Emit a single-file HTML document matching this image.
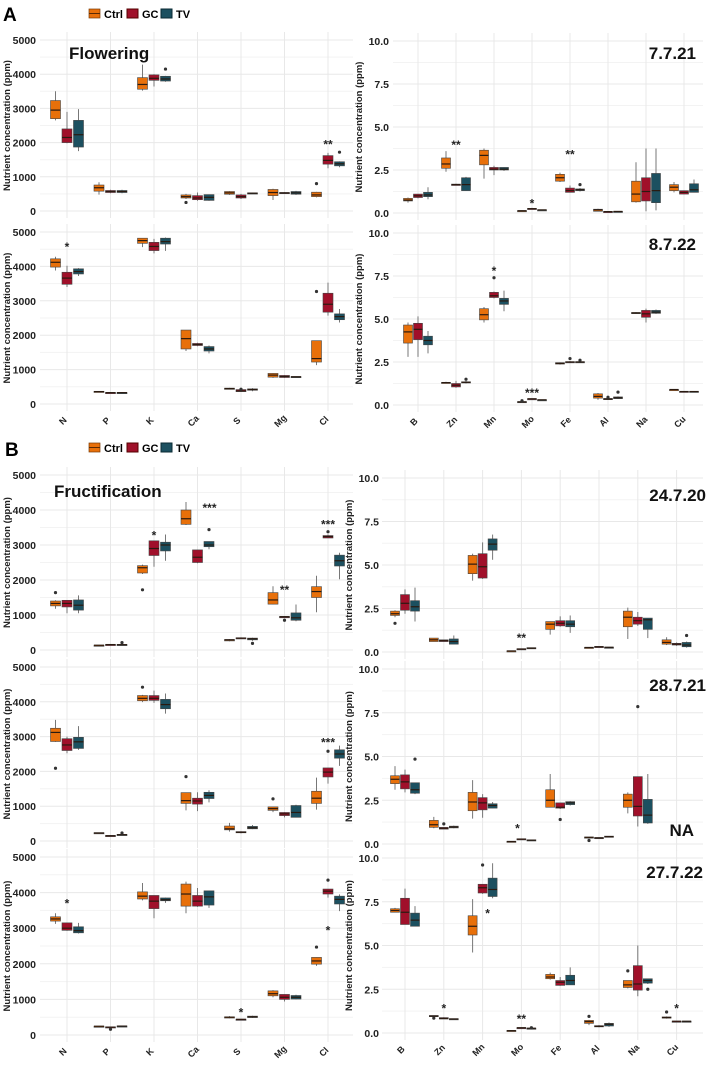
<!DOCTYPE html>
<html><head><meta charset="utf-8">
<style>
html,body{margin:0;padding:0;background:#fff;}
svg{display:block;font-family:"Liberation Sans",sans-serif;}
</style></head>
<body>
<svg id="fig" width="709" height="1065" viewBox="0 0 709 1065" xmlns="http://www.w3.org/2000/svg">
<text x="3" y="21" font-size="19" font-weight="bold">A</text>
<text x="5" y="456" font-size="19" font-weight="bold">B</text>
<g>
 <rect x="89" y="9" width="11" height="9" fill="#E8700A" stroke="#7a3a05" stroke-width="0.7"/><line x1="89" y1="13.5" x2="100" y2="13.5" stroke="#5a2a05"/>
 <text x="104" y="18" font-size="11" font-weight="bold">Ctrl</text>
 <rect x="127" y="9" width="11" height="9" fill="#A0102A" stroke="#500"/><text x="142" y="18" font-size="11" font-weight="bold">GC</text>
 <rect x="161" y="9" width="11" height="9" fill="#1C5060" stroke="#0a2a33"/><text x="176" y="18" font-size="11" font-weight="bold">TV</text>
</g>
<g>
 <rect x="89" y="443" width="11" height="9" fill="#E8700A" stroke="#7a3a05" stroke-width="0.7"/><line x1="89" y1="447.5" x2="100" y2="447.5" stroke="#5a2a05"/>
 <text x="104" y="452" font-size="11" font-weight="bold">Ctrl</text>
 <rect x="127" y="443" width="11" height="9" fill="#A0102A" stroke="#500"/><text x="142" y="452" font-size="11" font-weight="bold">GC</text>
 <rect x="161" y="443" width="11" height="9" fill="#1C5060" stroke="#0a2a33"/><text x="176" y="452" font-size="11" font-weight="bold">TV</text>
</g>
<g id="plots"></g>
</svg>
<script>
const macroCats = ["N","P","K","Ca","S","Mg","Cl"];
const microCats = ["B","Zn","Mn","Mo","Fe","Al","Na","Cu"];
const macroTicks = ["0","1000","2000","3000","4000","5000"];
const macroTickVals = [0,1000,2000,3000,4000,5000];
const microTicks = ["0.0","2.5","5.0","7.5","10.0"];
const microTickVals = [0,2.5,5,7.5,10];

const a1Ctrl = [[2650,2700,2950,3230,3500],[480,580,680,760,840],[3520,3560,3700,3900,4280],[350,380,420,470,500],[470,490,530,570,580],[320,450,540,630,650],[400,420,470,550,560]];
const a1GC   = [[1980,2000,2150,2400,2900],[520,540,570,600,620],[3640,3820,3880,3980,4000],[300,330,380,450,540],[350,380,420,470,500],[510,520,530,540,550],[1250,1370,1480,1620,1700]];
const a1TV   = [[1750,1870,2230,2650,2980],[520,540,570,600,620],[3780,3800,3860,3940,3950],[300,310,400,480,480],[500,510,520,530,540],[470,490,530,570,590],[1280,1320,1380,1440,1450]];
const a1Out  = [[2,2,4150],[3,0,250],[6,0,800],[6,2,1720]];
const a1Sig  = [[6,0,1980,"**"]];

const a1mCtrl = [[0.6,0.7,0.75,0.85,0.9],[2.4,2.6,2.85,3.2,3.6],[2.0,2.8,3.35,3.65,3.75],[0.1,0.12,0.13,0.14,0.15],[1.8,1.85,2.05,2.25,2.35],[0.1,0.1,0.18,0.22,0.25],[0.6,0.65,1.1,1.85,2.95],[1.2,1.3,1.5,1.65,1.8]];
const a1mGC   = [[0.85,0.9,1.0,1.1,1.1],[1.6,1.6,1.65,1.68,1.7],[2.2,2.5,2.55,2.65,2.75],[0.2,0.22,0.25,0.27,0.3],[1.2,1.2,1.3,1.45,1.6],[0.05,0.07,0.08,0.09,0.1],[0.1,0.7,1.25,2.05,3.75],[1.1,1.1,1.2,1.3,1.3]];
const a1mTV   = [[0.8,0.95,1.05,1.2,1.5],[1.3,1.3,1.65,2.05,2.1],[2.45,2.5,2.55,2.65,2.65],[0.15,0.17,0.18,0.19,0.2],[1.25,1.3,1.35,1.4,1.45],[0.08,0.08,0.09,0.1,0.1],[0.15,0.6,1.3,2.3,3.75],[1.2,1.2,1.35,1.7,1.95]];
const a1mOut  = [[4,2,1.65]];
const a1mSig  = [[1,0,4.0,"**"],[3,0,0.6,"*"],[4,0,3.45,"**"]];

const a2Ctrl = [[3880,3980,4120,4220,4280],[350,350,360,370,370],[4560,4670,4750,4820,4820],[1540,1600,1900,2150,2150],[430,440,450,460,470],[760,780,840,890,900],[1130,1220,1320,1840,1840]];
const a2GC   = [[3400,3480,3660,3830,4020],[320,325,330,335,340],[4380,4460,4580,4700,4800],[1680,1700,1730,1760,1780],[350,360,380,420,440],[760,770,800,830,840],[2570,2670,2900,3220,3530]];
const a2TV   = [[3720,3780,3850,3930,3950],[320,325,330,335,340],[4450,4650,4720,4820,4840],[1470,1540,1600,1670,1700],[370,400,420,440,460],[780,785,790,800,800],[2370,2450,2540,2620,2760]];
const a2Out  = [[6,0,3270],[4,1,430]];
const a2Sig  = [[0,0,4600,"*"]];

const a2mCtrl = [[2.8,3.6,4.25,4.65,4.8],[1.25,1.25,1.3,1.32,1.35],[4.8,4.95,5.25,5.6,5.7],[0.15,0.17,0.18,0.2,0.22],[2.35,2.38,2.42,2.46,2.48],[0.3,0.4,0.5,0.65,0.7],[5.3,5.32,5.35,5.38,5.4],[0.9,0.9,0.9,0.9,0.9]];
const a2mGC   = [[2.8,3.8,4.4,4.75,5.15],[1.0,1.05,1.15,1.25,1.4],[6.2,6.25,6.35,6.55,6.6],[0.35,0.35,0.36,0.37,0.37],[2.45,2.47,2.5,2.52,2.55],[0.3,0.32,0.35,0.38,0.4],[4.8,5.1,5.3,5.5,5.6],[0.75,0.77,0.78,0.8,0.8]];
const a2mTV   = [[3.0,3.5,3.75,4.0,4.3],[1.25,1.3,1.32,1.35,1.4],[5.45,5.85,6.05,6.2,6.65],[0.28,0.29,0.3,0.31,0.32],[2.45,2.47,2.5,2.52,2.55],[0.35,0.37,0.42,0.47,0.5],[5.3,5.33,5.4,5.5,5.55],[0.75,0.77,0.78,0.8,0.8]];
const a2mOut  = [[1,2,1.5],[2,1,7.4],[3,0,0.25],[4,1,2.7],[4,2,2.6],[5,1,0.45],[5,2,0.75]];
const a2mSig  = [[2,0,7.85,"*"],[3,0,0.75,"***"]];

const b1Ctrl = [[1180,1260,1330,1400,1420],[130,130,135,140,140],[2170,2200,2350,2410,2440],[3570,3590,3750,4000,4230],[250,260,290,300,310],[1300,1310,1430,1640,1820],[1080,1500,1670,1810,2120]];
const b1GC   = [[1050,1230,1330,1420,1430],[150,150,155,160,160],[2380,2700,2900,3120,3120],[2480,2500,2650,2860,2860],[320,330,340,350,360],[920,920,950,960,970],[3200,3200,3240,3270,3300]];
const b1TV   = [[1050,1140,1280,1430,1560],[140,140,150,160,200],[2550,2830,3000,3080,3300],[2880,2950,3000,3100,3100],[260,290,320,340,350],[820,850,920,1060,1300],[2020,2400,2550,2710,2780]];
const b1Out  = [[0,0,1640],[1,2,210],[2,0,1720],[3,2,3440],[4,2,190],[5,1,850],[6,1,3380]];
const b1Sig  = [[2,0,3300,"*"],[3,12,4080,"***"],[5,0,1750,"**"],[6,0,3620,"***"]];

const b1mCtrl = [[2.0,2.1,2.2,2.35,2.4],[0.6,0.6,0.7,0.8,0.8],[4.1,4.5,5.05,5.55,5.65],[0.05,0.05,0.06,0.07,0.07],[1.0,1.3,1.6,1.75,1.75],[0.25,0.25,0.26,0.27,0.27],[0.75,1.45,2.0,2.35,2.55],[0.4,0.45,0.55,0.7,0.85]];
const b1mGC   = [[2.2,2.4,2.8,3.3,3.6],[0.6,0.6,0.65,0.7,0.7],[4.2,4.25,4.9,5.65,6.3],[0.15,0.15,0.17,0.19,0.2],[1.45,1.5,1.65,1.8,2.05],[0.27,0.28,0.3,0.32,0.32],[1.5,1.6,1.8,2.0,2.3],[0.35,0.4,0.45,0.5,0.55]];
const b1mTV   = [[1.75,2.35,2.6,2.95,3.7],[0.45,0.45,0.6,0.75,0.95],[5.3,5.85,6.2,6.5,6.75],[0.2,0.2,0.22,0.25,0.25],[1.1,1.45,1.6,1.8,2.1],[0.25,0.26,0.27,0.28,0.28],[0.8,1.3,1.85,1.95,1.95],[0.25,0.3,0.4,0.55,0.6]];
const b1mOut  = [[0,0,1.65],[7,2,0.95]];
const b1mSig  = [[3,0,0.85,"**"]];

const b2Ctrl = [[2850,2860,3120,3240,3480],[220,220,230,240,240],[3990,4030,4100,4180,4200],[880,1080,1160,1390,1390],[270,320,350,430,520],[830,880,930,980,980],[900,1080,1230,1430,1820]];
const b2GC   = [[2520,2600,2760,2940,3000],[130,140,150,160,160],[3970,4040,4100,4180,4320],[860,1060,1150,1230,1400],[220,240,250,270,280],[680,730,780,820,830],[1650,1840,1980,2100,2100]];
const b2TV   = [[2620,2660,2850,2980,3300],[170,175,180,190,210],[3660,3800,3920,4070,4240],[1110,1220,1310,1400,1460],[340,350,380,420,460],[680,680,820,1020,1040],[2160,2380,2500,2620,2740]];
const b2Out  = [[0,0,2090],[1,2,230],[2,0,4420],[3,0,1850],[5,0,1210],[6,1,2580]];
const b2Sig  = [[6,0,2860,"***"]];

const b2mCtrl = [[3.1,3.45,3.7,3.9,4.45],[0.9,0.95,1.1,1.35,1.55],[1.45,1.9,2.4,2.95,3.65],[0.12,0.12,0.14,0.16,0.16],[2.1,2.1,2.5,3.1,4.0],[0.3,0.35,0.38,0.4,0.4],[1.75,2.1,2.5,2.85,2.95],null];
const b2mGC   = [[2.95,3.15,3.55,3.95,4.25],[0.85,0.85,0.9,0.95,0.95],[1.5,1.95,2.35,2.65,2.85],[0.25,0.25,0.28,0.3,0.3],[2.0,2.05,2.1,2.35,2.35],[0.33,0.33,0.35,0.37,0.37],[1.0,1.6,2.15,3.85,3.85],null];
const b2mTV   = [[2.85,2.9,3.1,3.5,3.5],[0.9,0.92,0.97,1.02,1.05],[2.05,2.05,2.2,2.3,2.4],[0.2,0.2,0.22,0.24,0.25],[2.2,2.25,2.35,2.42,2.45],[0.4,0.4,0.42,0.45,0.45],[1.15,1.2,1.65,2.55,4.0],null];
const b2mOut  = [[0,2,4.85],[1,1,1.15],[4,1,1.4],[5,0,0.2],[6,1,7.85]];
const b2mSig  = [[3,-4,0.95,"*"]];

const b3Ctrl = [[3120,3200,3260,3320,3420],[240,240,245,250,250],[3780,3820,3900,4020,4270],[3420,3620,3960,4240,4310],[470,480,500,510,530],[1060,1100,1160,1240,1260],[1940,1990,2080,2180,2180]];
const b3GC   = [[2930,2940,3000,3150,3150],[200,210,220,230,230],[3280,3550,3760,3920,3920],[3600,3620,3760,3920,4130],[430,435,440,445,450],[940,1000,1060,1140,1140],[3860,3960,4040,4100,4100]];
const b3TV   = [[2850,2870,2930,3040,3150],[240,240,250,255,255],[3710,3770,3800,3850,3860],[3570,3650,3880,4050,4050],[480,490,510,530,540],[1000,1010,1060,1110,1130],[3480,3680,3810,3900,3950]];
const b3Out  = [[1,1,160],[6,0,2470],[6,1,4350]];
const b3Sig  = [[0,0,3720,"*"],[4,0,660,"*"],[6,0,2960,"*"]];

const b3mCtrl = [[6.9,6.9,7.0,7.1,7.15],[0.85,0.95,0.97,1.0,1.0],[4.6,5.6,6.1,6.7,7.65],[0.1,0.12,0.13,0.15,0.15],[3.05,3.1,3.2,3.35,3.45],[0.45,0.55,0.65,0.72,0.75],[2.55,2.6,2.75,3.0,3.0],[0.82,0.85,0.88,0.92,0.95]];
const b3mGC   = [[6.2,6.2,6.9,7.7,8.25],[0.8,0.8,0.83,0.88,0.9],[7.95,8.0,8.3,8.5,8.5],[0.28,0.28,0.3,0.31,0.31],[2.7,2.72,2.9,3.0,3.2],[0.33,0.35,0.38,0.42,0.45],[2.1,2.45,2.8,3.85,5.0],[0.65,0.66,0.67,0.68,0.68]];
const b3mTV   = [[6.1,6.1,6.45,6.85,7.25],[0.78,0.78,0.8,0.82,0.82],[7.7,7.8,8.2,8.85,9.7],[0.22,0.25,0.27,0.28,0.3],[2.75,2.75,3.0,3.3,3.75],[0.35,0.4,0.5,0.55,0.6],[2.8,2.85,3.0,3.1,3.1],[0.65,0.66,0.67,0.68,0.68]];
const b3mOut  = [[1,0,0.85],[2,1,9.6],[3,2,0.3],[5,0,0.95],[6,0,3.55],[6,2,2.5],[7,0,1.2]];
const b3mSig  = [[1,0,1.45,"*"],[2,5,6.9,"*"],[3,0,0.85,"**"],[7,0,1.45,"*"]];

const COLORS = ["#E8700A","#A0102A","#1C5060"];
const NS = "http://www.w3.org/2000/svg";
const root = document.getElementById("plots");
function mk(tag, attrs, parent){const e=document.createElementNS(NS,tag);for(const k in attrs)e.setAttribute(k,attrs[k]);parent.appendChild(e);return e;}

function drawPanel(cfg){
  const g = mk("g",{},root);
  
  
  const yScale = v => cfg.y0 + (cfg.yTop - cfg.y0) * (v / cfg.max);
  const xCat = i => cfg.cx0 + i * cfg.step;
  const top = cfg.yTop - 8, bot = cfg.y0 + 7;
  for (let i=0;i<cfg.tickVals.length-1;i++){
    const y = yScale((cfg.tickVals[i]+cfg.tickVals[i+1])/2);
    mk("line",{x1:cfg.xl,x2:cfg.xr,y1:y,y2:y,stroke:"#f3f3f3","stroke-width":1},g);
  }
  cfg.tickVals.forEach((v,i)=>{
    const y=yScale(v);
    mk("line",{x1:cfg.xl,x2:cfg.xr,y1:y,y2:y,stroke:"#e8e8e8","stroke-width":1},g);
    const t=mk("text",{x:cfg.tickX,y:y+4,"font-size":10.5,"font-weight":"bold","text-anchor":"end",fill:"#222"},g);
    t.textContent=cfg.ticks[i];
    
    
  });
  cfg.cats.forEach((c,i)=>{
    const x=xCat(i);
    mk("line",{x1:x,x2:x,y1:top,y2:bot,stroke:"#e8e8e8","stroke-width":1},g);
    if(cfg.xlabels){
      const t=mk("text",{x:0,y:0,"font-size":9,"font-weight":"bold","text-anchor":"middle",fill:"#222",transform:`translate(${x-2},${cfg.y0+19}) rotate(-45)`},g);
      t.textContent=c;
      
      
    }
  });
  const yt=mk("text",{x:0,y:0,"font-size":9.5,"font-weight":"bold","text-anchor":"middle",fill:"#222",transform:`translate(${cfg.titleX},${(cfg.y0+cfg.yTop)/2}) rotate(-90)`},g);
  yt.textContent="Nutrient concentration (ppm)";
  
  
  cfg.series.forEach((ser,si)=>{
    ser.forEach((b,ci)=>{
      if(!b) return;
      const cx = xCat(ci) + (si-1)*cfg.off;
      const w = cfg.bw;
      const wl = mk("line",{x1:cx,x2:cx,y1:yScale(b[0]),y2:yScale(b[4]),stroke:"#777","stroke-width":1},g);
      
      
      const y1=yScale(b[3]), y2=yScale(b[1]);
      const r=mk("rect",{x:cx-w/2,y:y1,width:w,height:Math.max(y2-y1,1.2),fill:COLORS[si],stroke:"#444","stroke-width":0.6},g);
      
      
      const ym=yScale(b[2]);
      mk("line",{x1:cx-w/2,x2:cx+w/2,y1:ym,y2:ym,stroke:"#2a1a10","stroke-width":1.2},g);
    });
  });
  cfg.out.forEach(o=>{
    const c=mk("circle",{cx:xCat(o[0])+(o[1]-1)*cfg.off,cy:yScale(o[2]),r:1.6,fill:"#333"},g);
    
    
  });
  cfg.sig.forEach(s=>{
    const t=mk("text",{x:xCat(s[0])+s[1],y:yScale(s[2])+5,"font-size":12,"font-weight":"bold","text-anchor":"middle",fill:"#222"},g);
    t.textContent=s[3];
    
    
  });
  if(cfg.title){
    const t=mk("text",{x:cfg.title[1],y:cfg.title[2],"font-size":17,"font-weight":"bold","text-anchor":cfg.title[3],fill:"#111"},g);
    t.textContent=cfg.title[0];
    
    
  }
}

const L = {cats:macroCats,ticks:macroTicks,tickVals:macroTickVals,max:5000,xl:40,xr:353,cx0:67,step:43.5,bw:10,off:11.5,tickX:36,titleX:10};
const RA = {cats:microCats,ticks:microTicks,tickVals:microTickVals,max:10,xl:393,xr:703,cx0:418,step:38,bw:9,off:10,tickX:389,titleX:362};
const RB = Object.assign({},RA,{cx0:405,step:38.8,tickX:379,xl:382,titleX:352});

drawPanel(Object.assign({},L,{name:"flowering-macro-2021",yTop:40,y0:211,series:[a1Ctrl,a1GC,a1TV],out:a1Out,sig:a1Sig,title:["Flowering",69,59,"start"]}));
drawPanel(Object.assign({},RA,{name:"flowering-micro-2021",yTop:41,y0:213,series:[a1mCtrl,a1mGC,a1mTV],out:a1mOut,sig:a1mSig,title:["7.7.21",696,59,"end"]}));
drawPanel(Object.assign({},L,{name:"flowering-macro-2022",yTop:232,y0:404,xlabels:true,series:[a2Ctrl,a2GC,a2TV],out:a2Out,sig:a2Sig}));
drawPanel(Object.assign({},RA,{name:"flowering-micro-2022",yTop:233,y0:405,xlabels:true,series:[a2mCtrl,a2mGC,a2mTV],out:a2mOut,sig:a2mSig,title:["8.7.22",696,250,"end"]}));
drawPanel(Object.assign({},L,{name:"fructification-macro-2020",yTop:475,y0:650,series:[b1Ctrl,b1GC,b1TV],out:b1Out,sig:b1Sig,title:["Fructification",54,497,"start"]}));
drawPanel(Object.assign({},RB,{name:"fructification-micro-2020",yTop:478,y0:652,series:[b1mCtrl,b1mGC,b1mTV],out:b1mOut,sig:b1mSig,title:["24.7.20",706,501,"end"]}));
drawPanel(Object.assign({},L,{name:"fructification-macro-2021",yTop:667,y0:841,series:[b2Ctrl,b2GC,b2TV],out:b2Out,sig:b2Sig}));
drawPanel(Object.assign({},RB,{name:"fructification-micro-2021",yTop:669,y0:844,series:[b2mCtrl,b2mGC,b2mTV],out:b2mOut,sig:b2mSig,title:["28.7.21",706,691,"end"]}));
drawPanel(Object.assign({},L,{name:"fructification-macro-2022",yTop:857,y0:1035,xlabels:true,series:[b3Ctrl,b3GC,b3TV],out:b3Out,sig:b3Sig}));
drawPanel(Object.assign({},RB,{name:"fructification-micro-2022",yTop:858,y0:1033,xlabels:true,series:[b3mCtrl,b3mGC,b3mTV],out:b3mOut,sig:b3mSig,title:["27.7.22",703,878,"end"]}));

const na = mk("text",{x:694,y:836,"font-size":17,"font-weight":"bold","text-anchor":"end",fill:"#111"},root);
na.textContent="NA";


</script>
</body></html>
